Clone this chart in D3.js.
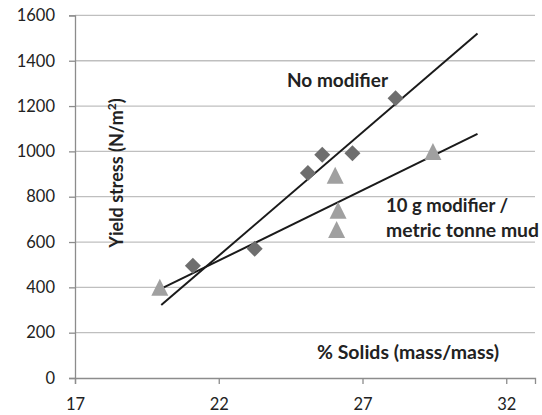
<!DOCTYPE html>
<html>
<head>
<meta charset="utf-8">
<script src="https://cdn.jsdelivr.net/npm/d3@7"></script>
<style>
  html, body { margin: 0; padding: 0; background: #fff; }
  svg { display: block; font-family: Lato, "Open Sans", sans-serif; }
</style>
</head>
<body>
<svg id="chart" width="542" height="415"></svg>
<script>
// Yield stress vs solids content, with and without modifier
const noModSolids = [21.1, 23.25, 25.1, 25.6, 26.65, 28.15];
const noModStress = [495, 570, 905, 985, 992, 1234];
const modSolids = [19.95, 26.05, 26.15, 26.1, 29.45];
const modStress = [400, 895, 740, 655, 1000];
const xTicks = [17, 22, 27, 32];
const yTicks = [0, 200, 400, 600, 800, 1000, 1200, 1400, 1600];
const trendRange = [20, 31];

const svg = d3.select("#chart");
const x = d3.scaleLinear().domain([17, 33]).range([75, 535]);
const y = d3.scaleLinear().domain([0, 1600]).range([378, 15.4]);

// horizontal gridlines
svg.append("g").selectAll("line").data(yTicks.filter(d => d > 0)).join("line")
  .attr("x1", x(17)).attr("x2", x(33))
  .attr("y1", d => y(d)).attr("y2", d => y(d))
  .attr("stroke", "#bfbfbf").attr("stroke-width", 1.3);

// axes
const axisColor = "#8c8c8c";
const yAxis = svg.append("g").attr("transform", `translate(${x(17)},0)`)
  .call(d3.axisLeft(y).tickValues(yTicks).tickFormat(d3.format("d")).tickSize(6).tickPadding(14));
const xAxis = svg.append("g").attr("transform", `translate(0,${y(0)})`)
  .call(d3.axisBottom(x).tickValues(xTicks).tickFormat(d3.format("d")).tickSize(6).tickPadding(14));
[yAxis, xAxis].forEach(g => {
  g.selectAll("path, line").attr("stroke", axisColor).attr("stroke-width", 1.3);
  g.selectAll("text").attr("font-size", 16.5).attr("fill", "#222")
    .attr("font-family", "Lato, 'Open Sans', sans-serif");
});

// least-squares trend line over trendRange
function fit(xs, ys) {
  const mx = d3.mean(xs), my = d3.mean(ys);
  const b = d3.sum(xs, (v, i) => (v - mx) * (ys[i] - my)) / d3.sum(xs, v => (v - mx) ** 2);
  return t => my + b * (t - mx);
}
[[noModSolids, noModStress], [modSolids, modStress]].forEach(([xs, ys]) => {
  const f = fit(xs, ys);
  svg.append("line")
    .attr("x1", x(trendRange[0])).attr("y1", y(f(trendRange[0])))
    .attr("x2", x(trendRange[1])).attr("y2", y(f(trendRange[1])))
    .attr("stroke", "#1a1a1a").attr("stroke-width", 2);
});

// markers
const diamond = d3.symbol().type({
  draw(ctx, size) { const r = Math.sqrt(size) / 2;
    ctx.moveTo(0, -r); ctx.lineTo(r, 0); ctx.lineTo(0, r); ctx.lineTo(-r, 0); ctx.closePath(); }
}).size(16 * 16);
const triangle = d3.symbol().type({
  draw(ctx, size) { const r = Math.sqrt(size) / 2;
    ctx.moveTo(0, -r); ctx.lineTo(r, r); ctx.lineTo(-r, r); ctx.closePath(); }
}).size(17 * 17);

svg.append("g").selectAll("path").data(noModSolids).join("path")
  .attr("d", diamond)
  .attr("transform", (d, i) => `translate(${x(d)},${y(noModStress[i])})`)
  .attr("fill", "#6e6e6e");
svg.append("g").selectAll("path").data(modSolids).join("path")
  .attr("d", triangle)
  .attr("transform", (d, i) => `translate(${x(d)},${y(modStress[i])})`)
  .attr("fill", "#a0a0a0");

// labels
function label(txt, px, py, width) {
  return svg.append("text").attr("x", px).attr("y", py).text(txt)
    .attr("font-weight", "bold").attr("font-size", 18).attr("fill", "#222")
    .attr("textLength", width).attr("lengthAdjust", "spacingAndGlyphs");
}
label("No modifier", 287, 87, 101);
label("10 g modifier /", 386, 212, 122);
label("metric tonne mud", 386, 237, 153);
label("% Solids (mass/mass)", 317, 359, 182);
svg.append("text")
  .attr("transform", "translate(123,173) rotate(-90)")
  .attr("text-anchor", "middle")
  .attr("font-weight", "bold").attr("font-size", 18).attr("fill", "#222")
  .call(t => {
    t.append("tspan").text("Yield stress (N/m");
    t.append("tspan").text("2").attr("font-size", 12).attr("dy", -7);
    t.append("tspan").text(")").attr("dy", 7);
  });
</script>
</body>
</html>
